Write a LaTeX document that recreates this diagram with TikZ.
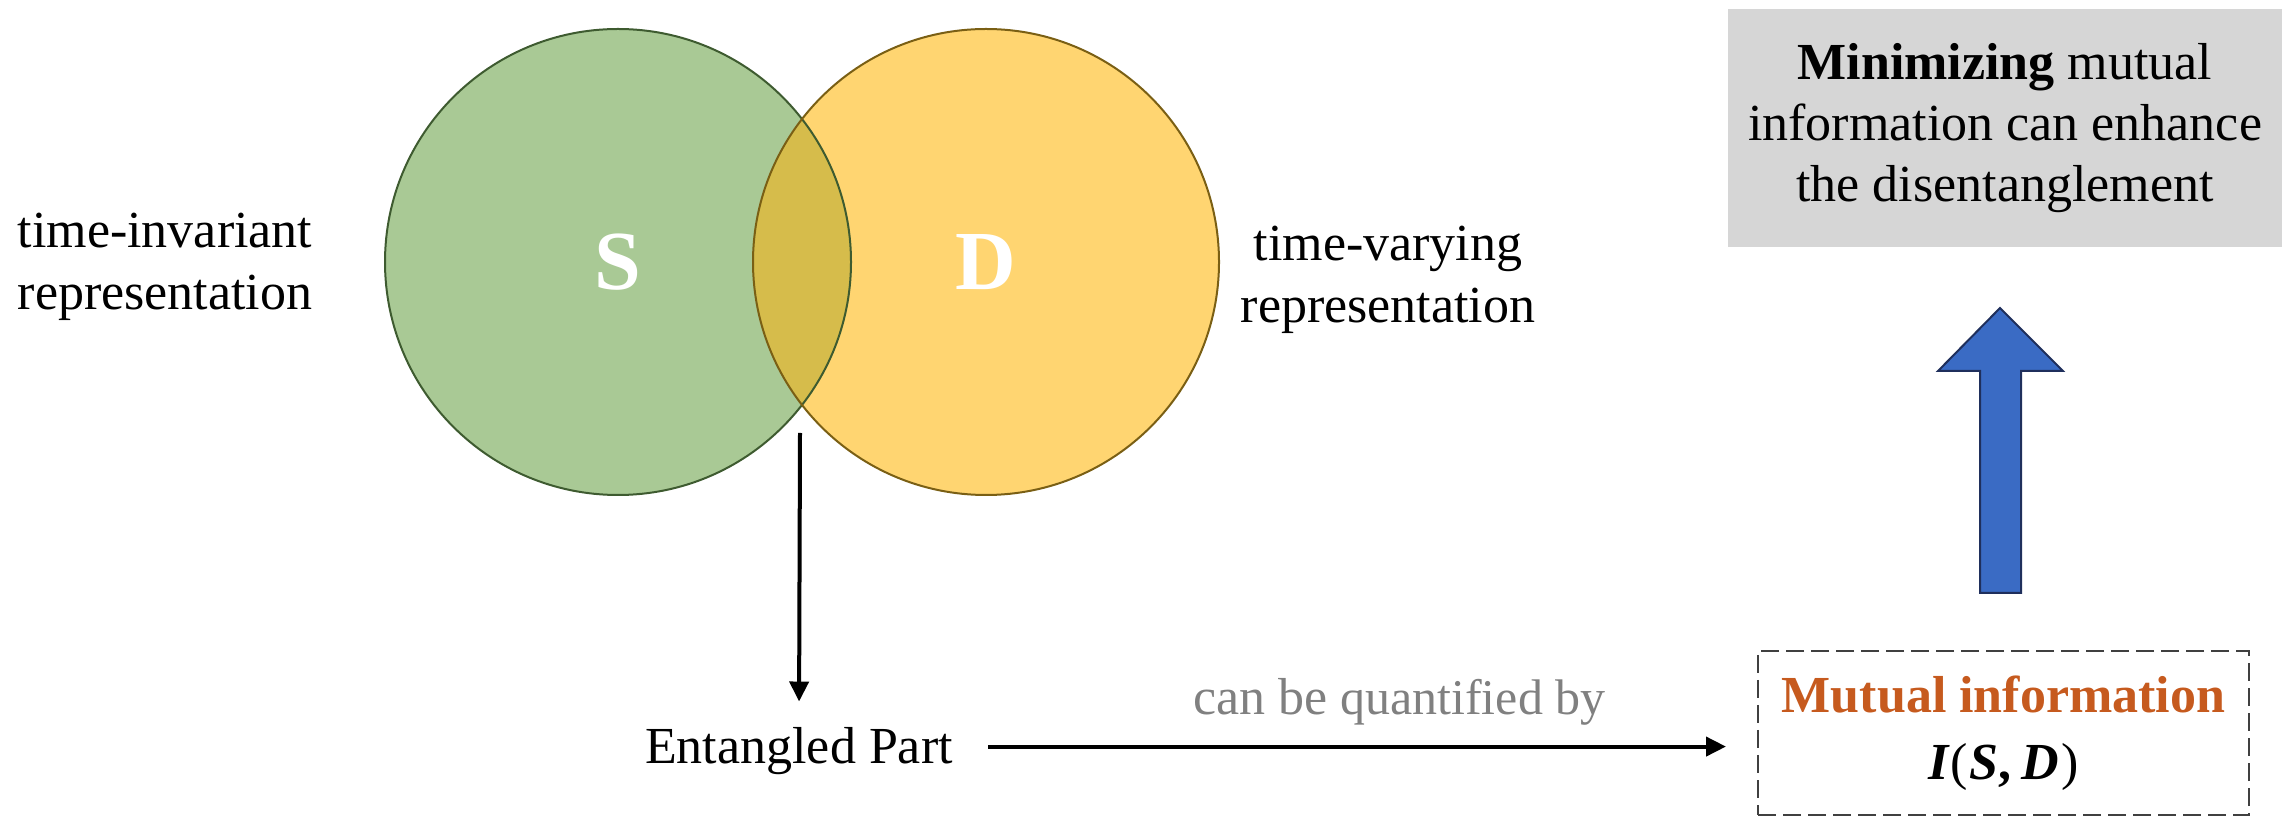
\documentclass[tikz,border=0pt]{standalone}
\usepackage{fontspec}
\setmainfont{Liberation Serif}
\usetikzlibrary{arrows.meta}

\definecolor{sgreen}{RGB}{169,201,149}
\definecolor{sline}{RGB}{62,91,48}
\definecolor{dyellow}{RGB}{255,213,113}
\definecolor{dline}{RGB}{122,95,20}
\definecolor{overlap}{RGB}{214,188,75}
\definecolor{miorange}{RGB}{198,90,30}
\definecolor{qgray}{RGB}{128,128,128}
\definecolor{boxgray}{RGB}{214,214,214}
\definecolor{boxline}{RGB}{64,64,64}
\definecolor{arrblue}{RGB}{58,107,196}
\definecolor{arrline}{RGB}{31,47,92}

\tikzset{
  txt/.style={font=\fontsize{26}{31}\selectfont, align=center, inner sep=0pt},
  letter/.style={font=\fontsize{42}{42}\selectfont\bfseries, text=white, inner sep=0pt},
  arr/.style={-{Triangle[length=10pt,width=9.5pt]}, line width=2pt},
}

\begin{document}
\begin{tikzpicture}[x=0.5pt,y=-0.5pt]
  \useasboundingbox (0,0) rectangle (2282,817);

  % Kreise S und D
  \coordinate (cS) at (618,262);
  \coordinate (cD) at (986,262);
  \fill[sgreen] (cS) circle[radius=233];
  \fill[dyellow] (cD) circle[radius=233];
  \begin{scope}
    \clip (cS) circle[radius=233];
    \fill[overlap] (cD) circle[radius=233];
  \end{scope}
  \draw[sline, line width=1pt] (cS) circle[radius=233];
  \draw[dline, line width=1pt] (cD) circle[radius=233];
  \node[letter] (S) at (cS) {S};
  \node[letter] (D) at (cD) {D};

  % Beschriftungen links und rechts
  \node[txt] (inv) at (165,267) {time-invariant\\representation};
  \node[txt] (var) at (1388,280) {time-varying\\representation};

  % Entangled Part
  \coordinate (lens) at (800,433);
  \node[txt, anchor=base] (ent) at (799,763) {Entangled Part};
  \draw[arr, shorten >=12.5pt] (lens) -- (ent.north);

  % Mutual information
  \node[txt, draw=boxline, dash pattern=on 9pt off 3.5pt, line width=1pt,
        minimum width=245.5pt, minimum height=82pt] (mi) at (2003.5,733)
        {\textcolor{miorange}{\textbf{Mutual information}}\\[2.5pt]
         {\bfseries\itshape I}\kern1pt(\kern1pt{\bfseries\itshape S}\textbf{,}\kern5pt{\bfseries\itshape D}\kern1pt)};
  \draw[arr, shorten <=17.5pt, shorten >=15.5pt] ([yshift=2pt]ent.east) --
    node[pos=0.555, above=9.5pt, inner sep=0pt, text=qgray] (quant)
      {\fontsize{26}{31}\selectfont can be \fontsize{25}{30}\selectfont quantified by}
    ([yshift=2pt]ent.east -| mi.west);

  % Ergebnis
  \node[txt, fill=boxgray, minimum width=277pt, minimum height=119pt,
        font=\fontsize{26}{30.5}\selectfont] (goal) at (2005,128)
        {\textbf{Minimizing} mutual\\information can enhance\\the disentanglement};

  % Blockpfeil
  \draw[fill=arrblue, draw=arrline, line width=1pt, line join=miter]
    (1980,593) -- (1980,371) -- (1938,371) -- (2000,308) -- (2063,371)
    -- (2021,371) -- (2021,593) -- cycle;
\end{tikzpicture}
\end{document}
